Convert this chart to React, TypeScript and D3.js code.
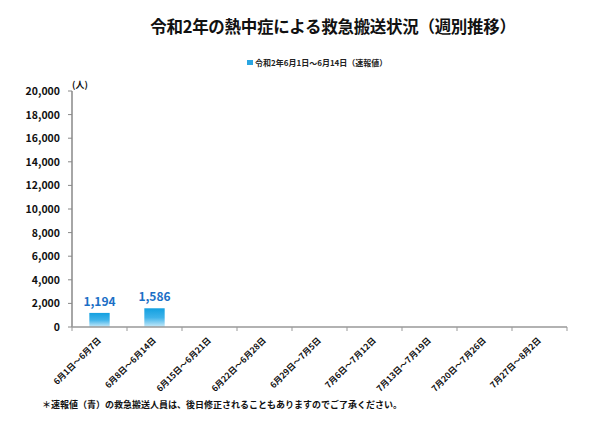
import * as d3 from 'd3'
import React from 'react'

const weeks = [
  '6月1日～6月7日',
  '6月8日～6月14日',
  '6月15日～6月21日',
  '6月22日～6月28日',
  '6月29日～7月5日',
  '7月6日～7月12日',
  '7月13日～7月19日',
  '7月20日～7月26日',
  '7月27日～8月2日',
]
const values: (number | null)[] = [1194, 1586, null, null, null, null, null, null, null]
const yTicks = [0, 2000, 4000, 6000, 8000, 10000, 12000, 14000, 16000, 18000, 20000]

const title = '令和2年の熱中症による救急搬送状況（週別推移）'
const legendLabel = '令和2年6月1日～6月14日（速報値）'
const note = '＊速報値（青）の救急搬送人員は、後日修正されることもありますのでご了承ください。'

const font = '"Noto Sans CJK JP", "Noto Sans", sans-serif'
const left = 72
const right = 567
const top = 91
const bottom = 327

export default function App() {
  const x = d3.scaleBand<string>().domain(weeks).range([left, right]).paddingInner(0.63).paddingOuter(0.315)
  const xb = d3.scaleBand<string>().domain(weeks).range([left, right])
  const y = d3.scaleLinear().domain([0, 20000]).range([bottom, top])
  const fmt = d3.format(',')

  return (
    <svg width={600} height={430} style={{ position: 'absolute', left: 0, top: 0, background: '#fff' }} fontFamily={font}>
      <defs>
        <linearGradient id="barGrad" x1="0" y1="0" x2="0" y2="1">
          <stop offset="0" stopColor="#12a0e0" />
          <stop offset="0.5" stopColor="#3fb3ea" />
          <stop offset="1" stopColor="#c8eaf9" />
        </linearGradient>
      </defs>
      <text x={333} y={33} textAnchor="middle" fontSize={16.5} fontWeight="bold" fill="#111" letterSpacing={-0.3}>{title}</text>

      <rect x={247} y={60} width={6} height={5} fill="#2aa6e2" />
      <text x={255} y={66} fontSize={8} fontWeight="bold" fill="#222">{legendLabel}</text>

      {yTicks.map(t => (
        <g key={t}>
          <line x1={left - 4} x2={left} y1={y(t)} y2={y(t)} stroke="#888" />
          <text x={left - 12} y={y(t) + 4} textAnchor="end" fontSize={10.5} fontWeight="bold" fill="#111">{fmt(t)}</text>
        </g>
      ))}
      <text x={left} y={top - 3} fontSize={9} fontWeight="bold" fill="#111">(人)</text>

      {weeks.map((w, i) => {
        const v = values[i]
        if (v == null) return null
        return (
          <g key={w}>
            <rect x={x(w)} y={y(v)} width={x.bandwidth()} height={bottom - y(v)} fill="url(#barGrad)" />
            <text x={(x(w) ?? 0) + x.bandwidth() / 2} y={y(v) - 7} textAnchor="middle" fontSize={12} fontWeight="bold" fill="#1b6fc6">{fmt(v)}</text>
          </g>
        )
      })}

      <line x1={left} x2={left} y1={top} y2={bottom} stroke="#888" strokeWidth={1.5} />
      <line x1={left} x2={right} y1={bottom} y2={bottom} stroke="#999" strokeWidth={1.5} />
      {weeks.map(w => (
        <line key={'t' + w} x1={xb(w)} x2={xb(w)} y1={bottom} y2={bottom + 4} stroke="#999" />
      ))}
      <line x1={right} x2={right} y1={bottom} y2={bottom + 4} stroke="#999" />

      {weeks.map(w => {
        const cx = (xb(w) ?? 0) + xb.bandwidth() / 2 + 2
        return (
          <text key={'l' + w} transform={`translate(${cx},${bottom + 14}) rotate(-45)`} textAnchor="end" fontSize={8.5} fontWeight="bold" fill="#111">{w}</text>
        )
      })}

      <text x={42} y={408} fontSize={9} fontWeight="bold" fill="#111">{note}</text>
    </svg>
  )
}
